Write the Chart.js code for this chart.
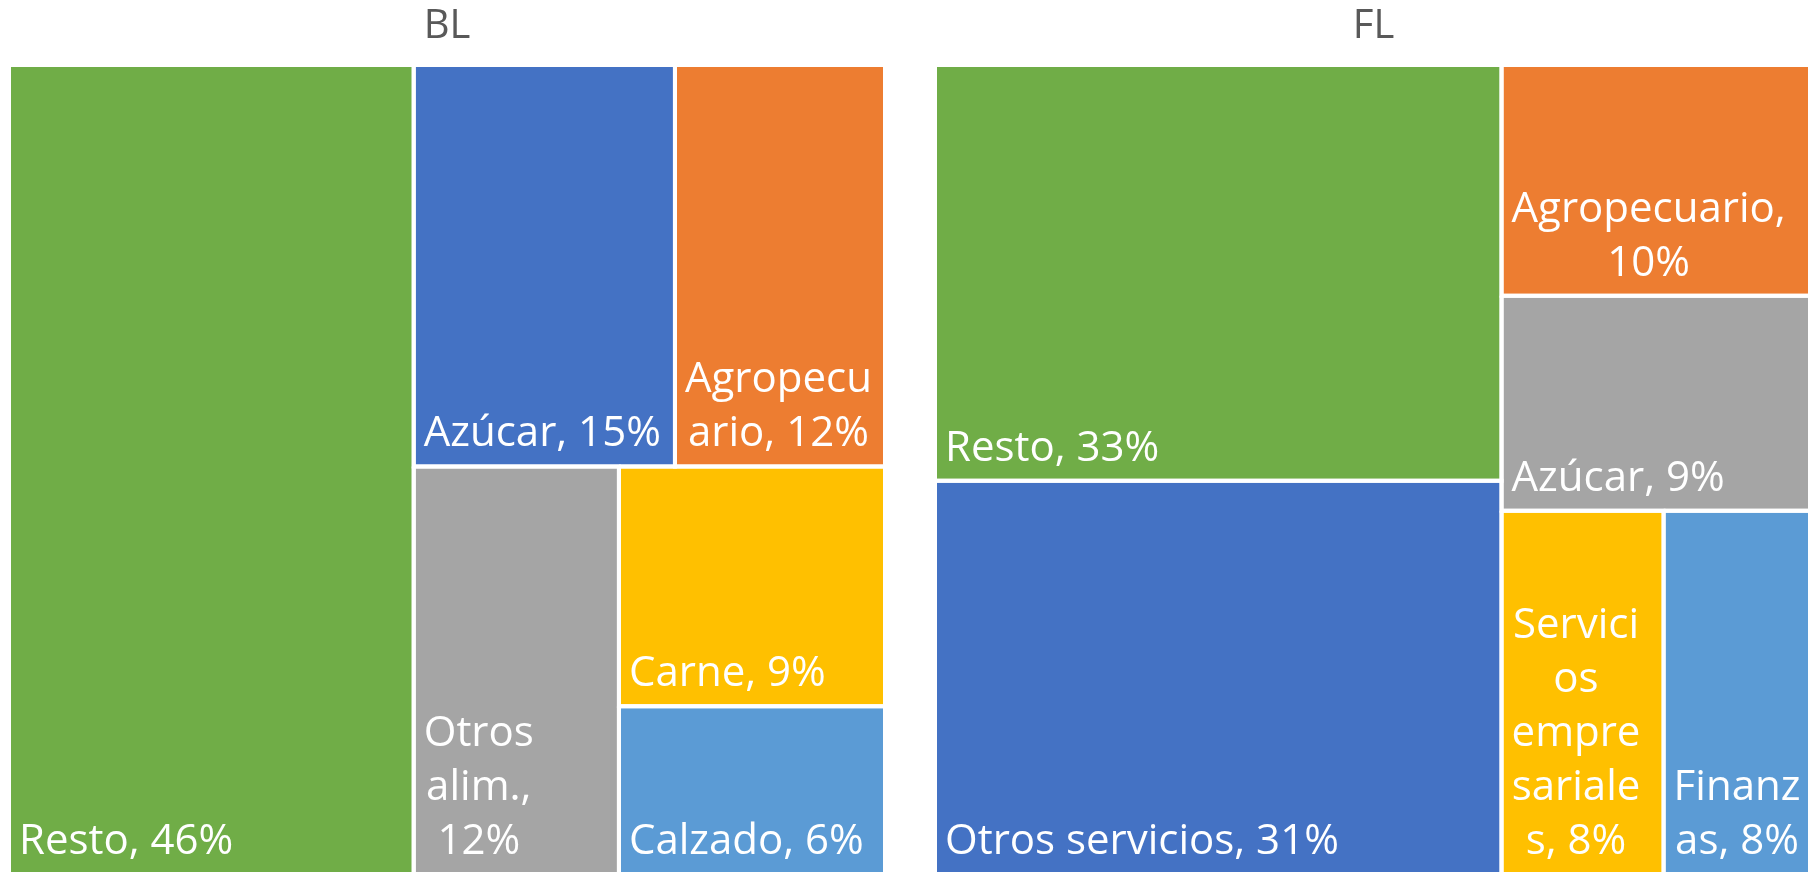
<!DOCTYPE html>
<html>
<head>
<meta charset="utf-8">
<script src="https://cdn.jsdelivr.net/npm/chart.js@4.4.1/dist/chart.umd.min.js"></script>
<style>
  html, body { margin: 0; padding: 0; background: #fff; overflow: hidden; }
  canvas { position: absolute; top: 0; }
  #bl { left: 0; }
  #fl { left: 910px; }
</style>
</head>
<body>
<canvas id="bl" width="900" height="875"></canvas>
<canvas id="fl" width="902" height="875"></canvas>
<script>
const blCategorias = ['Resto', 'Azúcar', 'Agropecuario', 'Otros alim.', 'Carne', 'Calzado'];
const blValores = [46.2, 14.8, 11.9, 11.8, 9.0, 6.3];
const blColores = ['#70ad47', '#4472c4', '#ed7d31', '#a5a5a5', '#ffc000', '#5b9bd5'];

const flCategorias = ['Resto', 'Otros servicios', 'Agropecuario', 'Azúcar', 'Servicios empresariales', 'Finanzas'];
const flValores = [33.2, 31.4, 10.1, 9.4, 8.3, 7.6];
const flColores = ['#70ad47', '#4472c4', '#ed7d31', '#a5a5a5', '#ffc000', '#5b9bd5'];

// espacio del layout (unidades de los ejes)
const LAYOUT_W = 140, LAYOUT_H = 100;
const FUENTE = '"Open Sans"';
const TAM_LABEL = 42, TAM_TITULO = 40;
const PAD_IZQ = 10, PAD_DER = 9, LINEA = 54, BASE = 20;

const suma = arr => arr.reduce((a, b) => a + b, 0);

function peorRatio(fila, lado) {
    const s = suma(fila);
    return Math.max(...fila.map(a => Math.max(lado * lado * a / (s * s), s * s / (lado * lado * a))));
}

// squarified treemap, en unidades de datos
function squarify(valores, w, h) {
    const total = suma(valores);
    const areas = valores.map(v => v * w * h / total);
    const out = [];
    let r = { x: 0, y: 0, w: w, h: h };
    let i = 0;
    while (i < areas.length) {
        const lado = Math.min(r.w, r.h);
        const fila = [areas[i]];
        let j = i + 1;
        while (j < areas.length && peorRatio([...fila, areas[j]], lado) <= peorRatio(fila, lado)) {
            fila.push(areas[j]);
            j++;
        }
        const s = suma(fila);
        if (r.w >= r.h) {
            const cw = s / r.h;
            let yy = r.y;
            fila.forEach(a => { const hh = a / cw; out.push({ x0: r.x, y0: yy, x1: r.x + cw, y1: yy + hh }); yy += hh; });
            r = { x: r.x + cw, y: r.y, w: r.w - cw, h: r.h };
        } else {
            const rh = s / r.w;
            let xx = r.x;
            fila.forEach(a => { const ww = a / rh; out.push({ x0: xx, y0: r.y, x1: xx + ww, y1: r.y + rh }); xx += ww; });
            r = { x: r.x, y: r.y + rh, w: r.w, h: r.h - rh };
        }
        i = j;
    }
    return out;
}

function partirTexto(ctx, texto, ancho) {
    const lineas = [];
    let actual = '';
    texto.split(' ').forEach(palabra => {
        const prueba = actual ? actual + ' ' + palabra : palabra;
        if (ctx.measureText(prueba).width <= ancho) { actual = prueba; return; }
        if (actual) { lineas.push(actual); actual = ''; }
        let resto = palabra;
        while (ctx.measureText(resto).width > ancho && resto.length > 1) {
            let n = resto.length - 1;
            while (n > 1 && ctx.measureText(resto.slice(0, n)).width > ancho) n--;
            lineas.push(resto.slice(0, n));
            resto = resto.slice(n);
        }
        actual = resto;
    });
    if (actual) lineas.push(actual);
    return lineas;
}

const etiquetasTreemap = {
    id: 'etiquetasTreemap',
    afterDatasetsDraw(chart) {
        const { ctx, scales: { x, y } } = chart;
        ctx.save();
        ctx.font = `${TAM_LABEL}px ${FUENTE}`;
        ctx.fillStyle = '#ffffff';
        ctx.textAlign = 'center';
        ctx.textBaseline = 'alphabetic';
        chart.data.datasets.forEach(ds => {
            const c = ds.celda;
            const izq = x.getPixelForValue(c.x0), der = x.getPixelForValue(c.x1);
            const abajo = y.getPixelForValue(c.y1);
            const lineas = partirTexto(ctx, ds.label, der - izq - PAD_IZQ - PAD_DER);
            const anchoBloque = Math.max(...lineas.map(l => ctx.measureText(l).width));
            const cx = izq + PAD_IZQ + anchoBloque / 2;
            lineas.forEach((l, k) => ctx.fillText(l, cx, abajo - BASE - (lineas.length - 1 - k) * LINEA));
        });
        ctx.restore();
    }
};

function crearTreemap(id, titulo, categorias, valores, colores, padding) {
    const celdas = squarify(valores, LAYOUT_W, LAYOUT_H);
    const datasets = celdas.map((c, i) => ({
        label: `${categorias[i]}, ${Math.round(valores[i])}%`,
        celda: c,
        data: [{ x: c.x0, y: c.y0 }, { x: c.x1, y: c.y0 }, { x: c.x1, y: c.y1 }, { x: c.x0, y: c.y1 }, { x: c.x0, y: c.y0 }],
        showLine: true,
        fill: 'shape',
        backgroundColor: colores[i],
        borderColor: '#ffffff',
        borderWidth: 4,
        pointRadius: 0,
        tension: 0,
        clip: false
    }));
    return new Chart(document.getElementById(id), {
        type: 'scatter',
        data: { datasets },
        options: {
            responsive: false,
            animation: false,
            events: [],
            layout: { padding: padding },
            scales: {
                x: { type: 'linear', min: 0, max: LAYOUT_W, display: false },
                y: { type: 'linear', min: 0, max: LAYOUT_H, reverse: true, display: false }
            },
            plugins: {
                legend: { display: false },
                tooltip: { enabled: false },
                filler: { drawTime: 'beforeDatasetsDraw' },
                title: {
                    display: true, text: titulo, color: '#595959',
                    font: { family: 'Open Sans', size: TAM_TITULO, weight: 'normal', lineHeight: 1.2 },
                    padding: { top: 3, bottom: 14 }
                }
            }
        },
        plugins: [etiquetasTreemap]
    });
}

document.fonts.load(`${TAM_LABEL}px ${FUENTE}`).then(() => {
    crearTreemap('bl', 'BL', blCategorias, blValores, blColores, { left: 9, right: 15, top: 0, bottom: 1 });
    crearTreemap('fl', 'FL', flCategorias, flValores, flColores, { left: 25, right: 0, top: 0, bottom: 1 });
});
</script>
</body>
</html>
